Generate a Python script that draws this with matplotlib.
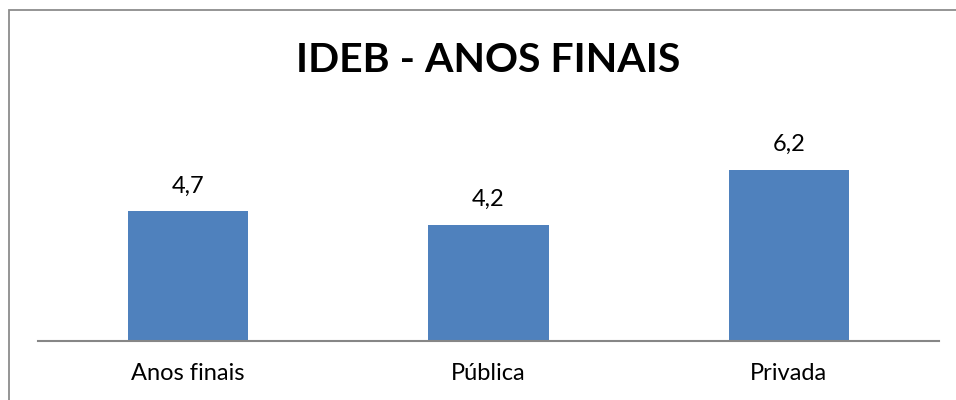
import matplotlib
matplotlib.use("Agg")
import matplotlib.pyplot as plt
import matplotlib.patches as patches

categories = ["Anos finais", "Pública", "Privada"]
values = [4.7, 4.2, 6.2]
title = "IDEB - ANOS FINAIS"

plt.rcParams['font.family'] = ['Lato', 'DejaVu Sans']

W, H = 956, 400
fig = plt.figure(figsize=(W / 100, H / 100), dpi=100)

# outer frame (only top and left edges visible in the reference)
fig.patches.append(patches.Rectangle((8.5 / W, -0.1), 1.2, (H - 9.5) / H + 0.1,
                                     transform=fig.transFigure, fill=False,
                                     edgecolor='#8c8c8c', linewidth=1.3))

ax = fig.add_axes([38 / W, (H - 340.5) / H, 901 / W, 219.6 / H])
x = range(len(categories))
ax.bar(x, values, width=0.4, color='#4f81bd')
ax.set_xlim(-0.5, 2.5)
ax.set_ylim(0, 8)

for xi, v in zip(x, values):
    ax.annotate(f"{v:.1f}".replace('.', ','), (xi, v), xytext=(0, 19),
                textcoords='offset pixels', ha='center', va='baseline',
                fontsize=17)

ax.set_xticks(list(x))
ax.set_xticklabels(categories, fontsize=17)
ax.tick_params(axis='x', length=0, pad=16)
ax.set_yticks([])
for s in ['top', 'right', 'left']:
    ax.spines[s].set_visible(False)
ax.spines['bottom'].set_color('#868686')
ax.spines['bottom'].set_linewidth(1.5)

fig.text(488 / W, 1 - 61 / H, title, ha='center', va='center',
         fontsize=29.5, fontweight='bold')

fig.savefig("out.png", dpi=100)
